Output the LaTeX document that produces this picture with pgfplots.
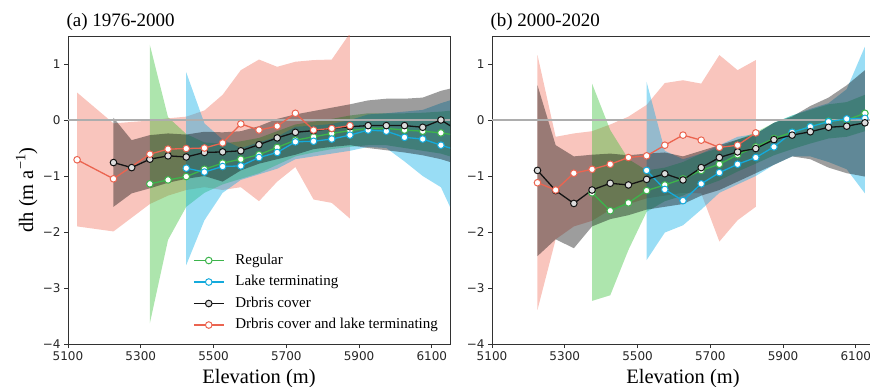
\documentclass[border=0pt]{standalone}
\usepackage{fontspec}
\setmainfont{Liberation Serif}
\newfontfamily\tickfont{DejaVu Sans}
\usepackage{pgfplots}
\usepackage{pgfplotstable}
\usepgfplotslibrary{fillbetween}
\pgfplotsset{compat=1.18}

\definecolor{cg}{RGB}{60,180,75}
\definecolor{cgf}{RGB}{50,190,50}
\definecolor{cc}{RGB}{20,170,220}
\definecolor{ccf}{RGB}{0,170,230}
\definecolor{cr}{RGB}{235,100,80}
\definecolor{crf}{RGB}{240,110,90}
\definecolor{ck}{RGB}{20,20,20}
\definecolor{ckf}{RGB}{10,10,10}
\definecolor{frame}{RGB}{50,50,50}

% ---------- (a) 1976-2000 ----------
\pgfplotstableread{
x mean lo hi
5325 -1.14 -3.63 1.34
5375 -1.07 -2.14 0.05
5425 -1.01 -1.55 -0.25
5475 -0.88 -1.30 -0.40
5525 -0.77 -1.15 -0.42
5575 -0.70 -1.05 -0.38
5625 -0.62 -0.95 -0.32
5675 -0.49 -0.80 -0.20
5725 -0.36 -0.65 -0.08
5775 -0.30 -0.58 -0.03
5825 -0.24 -0.52 0.02
5875 -0.19 -0.48 0.08
5925 -0.15 -0.45 0.12
5975 -0.15 -0.45 0.12
6025 -0.18 -0.50 0.12
6075 -0.20 -0.55 0.13
6125 -0.23 -0.60 0.15
6175 -0.28 -0.70 0.18
}\Ag
\pgfplotstableread{
x mean lo hi
5425 -0.86 -2.59 0.85
5475 -0.93 -1.79 -0.06
5525 -0.83 -1.30 -0.35
5575 -0.82 -1.07 -0.50
5625 -0.67 -0.97 -0.40
5675 -0.58 -0.87 -0.30
5725 -0.39 -0.70 -0.12
5775 -0.38 -0.65 -0.10
5825 -0.34 -0.60 -0.07
5875 -0.27 -0.55 0.00
5925 -0.18 -0.48 0.10
5975 -0.20 -0.50 0.12
6025 -0.31 -0.74 0.15
6075 -0.34 -1.00 0.18
6125 -0.45 -1.20 0.30
6175 -0.55 -1.90 0.40
}\Ac
\pgfplotstableread{
x mean lo hi
5225 -0.76 -1.55 0.04
5275 -0.85 -1.31 -0.36
5325 -0.70 -1.22 -0.27
5375 -0.64 -1.12 -0.24
5425 -0.66 -1.05 -0.26
5475 -0.58 -1.00 -0.21
5525 -0.57 -1.10 -0.22
5575 -0.55 -0.90 -0.20
5625 -0.44 -0.78 -0.11
5675 -0.32 -0.70 0.02
5725 -0.22 -0.62 0.10
5775 -0.19 -0.52 0.16
5825 -0.15 -0.48 0.22
5875 -0.12 -0.45 0.28
5925 -0.10 -0.50 0.35
5975 -0.10 -0.54 0.38
6025 -0.10 -0.58 0.38
6075 -0.13 -0.63 0.40
6125 0.00 -0.70 0.52
6175 -0.20 -0.80 0.60
}\Ak
\pgfplotstableread{
x mean lo hi
5125 -0.71 -1.90 0.49
5225 -1.05 -1.99 -0.06
5325 -0.61 -1.50 -0.01
5375 -0.52 -1.35 0.03
5425 -0.51 -1.25 0.06
5475 -0.50 -1.20 0.17
5525 -0.41 -1.25 0.45
5575 -0.07 -1.20 0.89
5625 -0.18 -1.45 1.08
5675 -0.11 -1.10 0.95
5725 0.12 -0.84 1.04
5775 -0.18 -1.42 1.07
5825 -0.15 -1.48 1.08
5875 -0.10 -1.76 1.55
}\Ar

% ---------- (b) 2000-2020 ----------
\pgfplotstableread{
x mean lo hi
5375 -1.30 -3.23 0.65
5425 -1.62 -3.13 -0.18
5475 -1.48 -2.32 -0.70
5525 -1.26 -1.64 -0.90
5575 -1.16 -1.45 -0.85
5625 -1.05 -1.35 -0.75
5675 -0.90 -1.20 -0.60
5725 -0.79 -1.08 -0.50
5775 -0.62 -0.92 -0.35
5825 -0.48 -0.78 -0.22
5875 -0.33 -0.63 -0.05
5925 -0.22 -0.52 0.08
5975 -0.12 -0.42 0.18
6025 -0.02 -0.33 0.28
6075 0.00 -0.30 0.32
6125 0.12 -0.20 0.45
}\Bg
\pgfplotstableread{
x mean lo hi
5525 -0.90 -2.50 0.68
5575 -1.24 -2.01 -0.55
5625 -1.44 -1.88 -0.70
5675 -1.14 -1.60 -0.60
5725 -0.94 -1.30 -0.45
5775 -0.79 -1.15 -0.30
5825 -0.67 -1.00 -0.25
5875 -0.48 -0.80 -0.05
5925 -0.22 -0.65 0.08
5975 -0.12 -0.65 0.20
6025 -0.03 -0.75 0.30
6075 0.02 -0.88 0.55
6125 0.03 -1.31 1.31
}\Bc
\pgfplotstableread{
x mean lo hi
5225 -0.90 -2.43 0.62
5275 -1.26 -2.13 -0.45
5325 -1.49 -2.29 -0.65
5375 -1.25 -1.90 -0.62
5425 -1.13 -1.77 -0.60
5475 -1.16 -1.70 -0.63
5525 -1.06 -1.60 -0.60
5575 -0.96 -1.55 -0.58
5625 -1.07 -1.50 -0.65
5675 -0.85 -1.35 -0.55
5725 -0.67 -1.25 -0.45
5775 -0.57 -1.10 -0.35
5825 -0.51 -0.95 -0.25
5875 -0.35 -0.80 -0.05
5925 -0.27 -0.65 0.06
5975 -0.21 -0.70 0.25
6025 -0.13 -0.85 0.40
6075 -0.11 -0.95 0.62
6125 -0.05 -1.01 0.89
}\Bk
\pgfplotstableread{
x mean lo hi
5225 -1.12 -3.39 1.16
5275 -1.25 -2.13 -0.30
5325 -0.95 -1.90 -0.24
5375 -0.88 -1.80 -0.20
5425 -0.79 -1.60 -0.08
5475 -0.67 -1.50 0.06
5525 -0.64 -1.40 0.27
5575 -0.45 -1.35 0.66
5625 -0.27 -1.30 0.71
5675 -0.36 -1.31 0.65
5725 -0.49 -2.17 1.16
5775 -0.45 -1.79 0.89
5825 -0.23 -1.55 1.07
}\Br

\pgfplotsset{
  panel/.style={
    scale only axis, width=382pt, height=308pt,
    xmin=5100, xmax=6150, ymin=-4, ymax=1.5,
    xtick={5100,5300,5500,5700,5900,6100},
    xticklabels={5100,5300,5500,5700,5900,6100},
    ytick={-4,-3,-2,-1,0,1},
    yticklabels={−4,−3,−2,−1,0,1},
    tick align=outside, xtick pos=left, ytick pos=left,
    major tick length=4pt,
    every tick/.style={frame, line width=0.8pt},
    axis line style={frame, line width=0.9pt},
    ticklabel style={font=\tickfont\fontsize{12}{14}\selectfont, text=black!85},
  },
  band/.style={draw=none, fill opacity=0.4, forget plot},
  ln/.style={#1, line width=1.3pt, mark=*, mark size=3.3pt,
    mark options={fill=white, draw=#1, line width=1pt}},
}

\begin{document}
\begin{tikzpicture}[x=1pt,y=1pt]

\begin{axis}[panel, at={(68pt,42pt)}, anchor=south west,
  legend style={draw=none, fill=none, at={(0.327,0.296)}, anchor=north west,
    inner sep=0pt, row sep=6.5pt,
    font=\fontsize{15}{17}\selectfont,
    nodes={inner sep=1pt, text height=10pt, text depth=3pt},
    /tikz/every odd column/.append style={column sep=10pt}},
  legend cell align=left,
  legend image code/.code={\draw[mark repeat=2,mark phase=2,#1] plot coordinates {(0pt,0pt) (15pt,0pt) (30pt,0pt)};}
]
\addplot[color=black!32, line width=1.1pt, forget plot] coordinates {(5100,0) (6150,0)};
% bands
\addplot[draw=none, name path=arU, forget plot] table[x=x,y=hi]{\Ar};
\addplot[draw=none, name path=arL, forget plot] table[x=x,y=lo]{\Ar};
\addplot[band, fill=crf] fill between[of=arU and arL];
\addplot[draw=none, name path=agU, forget plot] table[x=x,y=hi]{\Ag};
\addplot[draw=none, name path=agL, forget plot] table[x=x,y=lo]{\Ag};
\addplot[band, fill=cgf] fill between[of=agU and agL];
\addplot[draw=none, name path=acU, forget plot] table[x=x,y=hi]{\Ac};
\addplot[draw=none, name path=acL, forget plot] table[x=x,y=lo]{\Ac};
\addplot[band, fill=ccf] fill between[of=acU and acL];
\addplot[draw=none, name path=akU, forget plot] table[x=x,y=hi]{\Ak};
\addplot[draw=none, name path=akL, forget plot] table[x=x,y=lo]{\Ak};
\addplot[band, fill=ckf] fill between[of=akU and akL];
% lines
\addplot[ln=cg] table[x=x,y=mean]{\Ag};
\addplot[ln=cc] table[x=x,y=mean]{\Ac};
\addplot[ck, line width=1.3pt, mark=*, mark size=3.3pt, mark options={fill=black!13, draw=ck, line width=1pt}] table[x=x,y=mean]{\Ak};
\addplot[ln=cr] table[x=x,y=mean]{\Ar};
\legend{Regular, Lake terminating, Drbris cover, Drbris cover and lake terminating}
\end{axis}

\begin{axis}[panel, at={(492pt,42pt)}, anchor=south west]
\addplot[color=black!32, line width=1.1pt, forget plot] coordinates {(5100,0) (6150,0)};
\addplot[draw=none, name path=brU, forget plot] table[x=x,y=hi]{\Br};
\addplot[draw=none, name path=brL, forget plot] table[x=x,y=lo]{\Br};
\addplot[band, fill=crf] fill between[of=brU and brL];
\addplot[draw=none, name path=bgU, forget plot] table[x=x,y=hi]{\Bg};
\addplot[draw=none, name path=bgL, forget plot] table[x=x,y=lo]{\Bg};
\addplot[band, fill=cgf] fill between[of=bgU and bgL];
\addplot[draw=none, name path=bcU, forget plot] table[x=x,y=hi]{\Bc};
\addplot[draw=none, name path=bcL, forget plot] table[x=x,y=lo]{\Bc};
\addplot[band, fill=ccf] fill between[of=bcU and bcL];
\addplot[draw=none, name path=bkU, forget plot] table[x=x,y=hi]{\Bk};
\addplot[draw=none, name path=bkL, forget plot] table[x=x,y=lo]{\Bk};
\addplot[band, fill=ckf] fill between[of=bkU and bkL];
\addplot[ln=cg] table[x=x,y=mean]{\Bg};
\addplot[ln=cc] table[x=x,y=mean]{\Bc};
\addplot[ck, line width=1.3pt, mark=*, mark size=3.3pt, mark options={fill=black!13, draw=ck, line width=1pt}] table[x=x,y=mean]{\Bk};
\addplot[ln=cr] table[x=x,y=mean]{\Br};
\end{axis}

\node[anchor=base west, font=\fontsize{19}{22}\selectfont] at (63,359) {(a) 1976-2000};
\node[anchor=base west, font=\fontsize{19}{22}\selectfont] at (487,359) {(b) 2000-2020};
\node[anchor=base, font=\fontsize{20.5}{24}\selectfont] at (259,3) {Elevation (m)};
\node[anchor=base, font=\fontsize{20.5}{24}\selectfont] at (683,3) {Elevation (m)};
\node[rotate=90, anchor=base, font=\fontsize{20.5}{24}\selectfont] at (33,196) {dh (m a\textsuperscript{−1})};
\pgfresetboundingbox
\path[use as bounding box] (0,0) rectangle (870,386);
\end{tikzpicture}
\end{document}
